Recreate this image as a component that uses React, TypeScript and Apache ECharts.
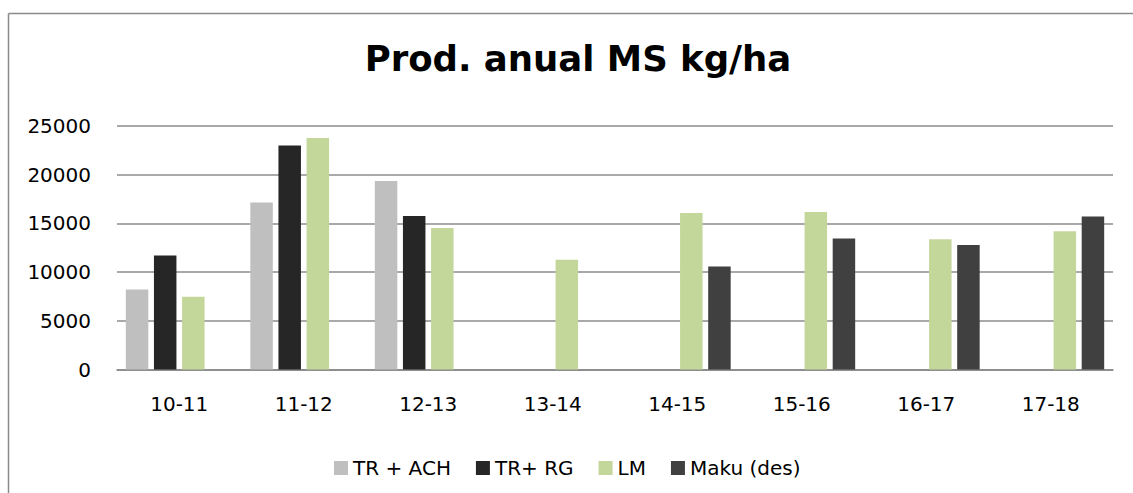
import React, { useEffect, useRef } from "react";
import * as echarts from "echarts";

const categories = ["10-11", "11-12", "12-13", "13-14", "14-15", "15-16", "16-17", "17-18"];
const seriesNames = ["TR + ACH", "TR+ RG", "LM", "Maku (des)"];
const trAch = [8220, 17150, 19350, null, null, null, null, null];
const trRg = [11700, 23000, 15750, null, null, null, null, null];
const lm = [7470, 23780, 14520, 11280, 16080, 16180, 13380, 14200];
const maku = [null, null, null, null, 10580, 13450, 12770, 15710];
const colors = ["#BFBFBF", "#262626", "#C4D79B", "#404040"];
const yTicks = { min: 0, max: 25000, interval: 5000 };
const titleText = "Prod. anual MS kg/ha";

export default function App() {
  const ref = useRef<HTMLDivElement>(null);
  useEffect(() => {
    if (!ref.current) return;
    const chart = echarts.init(ref.current, null, { renderer: "svg" });
    const font = "DejaVu Sans";
    const data = [trAch, trRg, lm, maku];
    chart.setOption({
      animation: false,
      backgroundColor: "#ffffff",
      graphic: [
        { type: "line", shape: { x1: 8.5, y1: 13.5, x2: 1133, y2: 13.5 }, style: { stroke: "#8a8a8a", lineWidth: 1.5 } },
        { type: "line", shape: { x1: 8.5, y1: 13.5, x2: 8.5, y2: 493 }, style: { stroke: "#8a8a8a", lineWidth: 1.5 } },
        {
          type: "text",
          x: 578,
          y: 58,
          style: {
            text: titleText,
            fontFamily: font,
            fontWeight: "bold",
            fontSize: 35.5,
            fill: "#000000",
            textAlign: "center",
            textVerticalAlign: "middle",
          },
        },
      ],
      legend: {
        left: 329,
        top: 453,
        itemWidth: 14,
        itemHeight: 14,
        itemGap: 25,
        icon: "rect",
        data: seriesNames,
        textStyle: { fontFamily: font, fontSize: 20, color: "#000000" },
      },
      grid: { left: 117, right: 20, top: 126, bottom: 123.5, containLabel: false },
      xAxis: {
        type: "category",
        data: categories,
        axisLine: { lineStyle: { color: "#868686", width: 1.5 } },
        axisTick: { show: false },
        axisLabel: { fontFamily: font, fontSize: 20, color: "#000000", margin: 24 },
      },
      yAxis: {
        type: "value",
        min: yTicks.min,
        max: yTicks.max,
        interval: yTicks.interval,
        axisLine: { show: false },
        axisTick: { show: false },
        splitLine: { lineStyle: { color: "#8c8c8c", width: 1.5 } },
        axisLabel: {
          fontFamily: font,
          fontSize: 20,
          color: "#000000",
          margin: 26,
          formatter: (v: number) => String(v),
        },
      },
      series: seriesNames.map((name, i) => ({
        name,
        type: "bar",
        data: data[i],
        barWidth: 22.5,
        barGap: "25%",
        itemStyle: { color: colors[i] },
      })),
    });
    return () => chart.dispose();
  }, []);
  return (
    <div
      ref={ref}
      style={{ position: "absolute", left: 0, top: 0, width: 1133, height: 493 }}
    />
  );
}
